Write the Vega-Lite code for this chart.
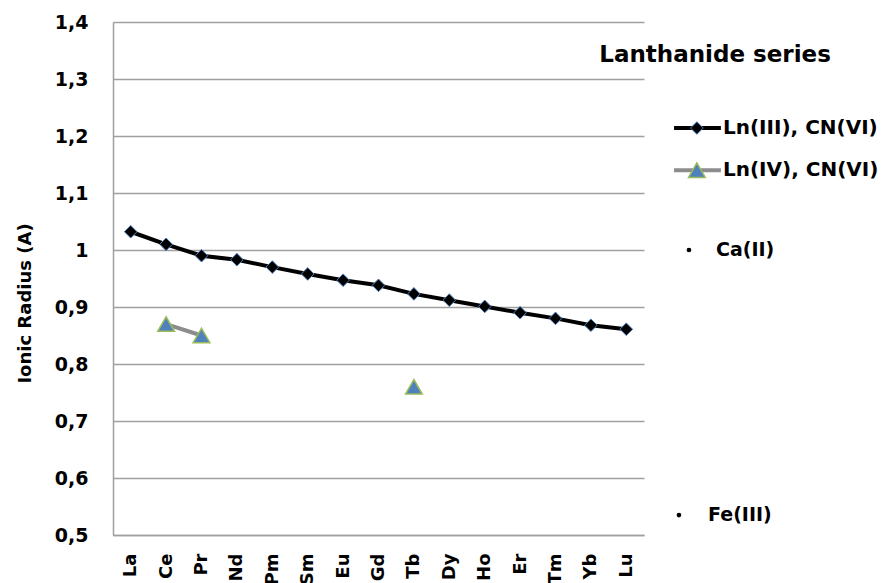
{
  "$schema": "https://vega.github.io/schema/vega-lite/v6.json",
  "background": "white",
  "padding": {"left": 16, "top": 13, "right": 0, "bottom": 0},
  "bounds": "flush",
  "spacing": 0,
  "config": {
    "view": {"stroke": null},
    "font": "DejaVu Sans",
    "text": {"font": "DejaVu Sans"},
    "axis": {
      "labelFont": "DejaVu Sans", "labelFontSize": 19, "labelFontWeight": "bold", "labelColor": "black",
      "titleFont": "DejaVu Sans", "titleFontSize": 18, "titleFontWeight": "bold", "titleColor": "black",
      "ticks": false, "domainColor": "#a0a0a0", "domainWidth": 1.5, "gridColor": "#a0a0a0", "gridWidth": 1.5
    }
  },
  "resolve": {"scale": {"y": "independent", "x": "independent"}},
  "hconcat": [
    {
      "width": 531,
      "height": 513,
      "data": {
        "values": [
          {"element": "La", "ln3": 1.032, "ln4": null},
          {"element": "Ce", "ln3": 1.01, "ln4": 0.87},
          {"element": "Pr", "ln3": 0.99, "ln4": 0.85},
          {"element": "Nd", "ln3": 0.983, "ln4": null},
          {"element": "Pm", "ln3": 0.97, "ln4": null},
          {"element": "Sm", "ln3": 0.958, "ln4": null},
          {"element": "Eu", "ln3": 0.947, "ln4": null},
          {"element": "Gd", "ln3": 0.938, "ln4": null},
          {"element": "Tb", "ln3": 0.923, "ln4": 0.76},
          {"element": "Dy", "ln3": 0.912, "ln4": null},
          {"element": "Ho", "ln3": 0.901, "ln4": null},
          {"element": "Er", "ln3": 0.89, "ln4": null},
          {"element": "Tm", "ln3": 0.88, "ln4": null},
          {"element": "Yb", "ln3": 0.868, "ln4": null},
          {"element": "Lu", "ln3": 0.861, "ln4": null}
        ]
      },
      "encoding": {
        "x": {
          "field": "element", "type": "nominal", "sort": null,
          "scale": {"padding": 0.5},
          "axis": {"title": null, "labelAngle": -90, "labelPadding": 18, "labelFontSize": 18, "grid": false}
        }
      },
      "layer": [
        {
          "mark": {"type": "line", "color": "black", "strokeWidth": 4},
          "encoding": {
            "y": {
              "field": "ln3", "type": "quantitative", "title": "Ionic Radius (A)",
              "scale": {"domain": [0.5, 1.4], "nice": false, "zero": false},
              "axis": {
                "values": [0.5, 0.6, 0.7, 0.8, 0.9, 1.0, 1.1, 1.2, 1.3, 1.4],
                "labelExpr": "replace(format(datum.value, '.1~f'), '.', ',')",
                "grid": true, "labelPadding": 25, "titlePadding": 20, "titleY": 281
              }
            }
          }
        },
        {
          "mark": {"type": "point", "shape": "diamond", "filled": true, "fill": "black", "stroke": "#4f81bd", "strokeWidth": 1, "size": 160, "opacity": 1},
          "encoding": {
            "y": {"field": "ln3", "type": "quantitative", "title": "Ionic Radius (A)", "scale": {"domain": [0.5, 1.4], "nice": false, "zero": false}}
          }
        },
        {
          "mark": {"type": "line", "color": "#8c8c8c", "strokeWidth": 4, "invalid": "break-paths-show-domains"},
          "encoding": {
            "y": {"field": "ln4", "type": "quantitative", "title": "Ionic Radius (A)", "scale": {"domain": [0.5, 1.4], "nice": false, "zero": false}}
          }
        },
        {
          "mark": {"type": "point", "shape": "triangle-up", "filled": true, "fill": "#4f81bd", "stroke": "#9bbb59", "strokeWidth": 1.5, "size": 280, "opacity": 1},
          "encoding": {
            "y": {"field": "ln4", "type": "quantitative", "title": "Ionic Radius (A)", "scale": {"domain": [0.5, 1.4], "nice": false, "zero": false}}
          }
        }
      ]
    },
    {
      "width": 233,
      "height": 513,
      "layer": [
        {
          "data": {"values": [{"label": "Lanthanide series"}]},
          "mark": {"type": "text", "font": "DejaVu Sans", "fontSize": 23, "fontWeight": "bold", "align": "center", "baseline": "middle", "color": "black"},
          "encoding": {
            "text": {"field": "label"},
            "x": {"datum": 30.5, "type": "quantitative", "scale": {"domain": [0, 100]}, "axis": null},
            "y": {"datum": 1.342, "type": "quantitative", "scale": {"domain": [0.5, 1.4], "nice": false, "zero": false}, "axis": null}
          }
        },
        {
          "data": {"values": [{"label": "Ln(III), CN(VI)"}]},
          "mark": {"type": "rule", "color": "black", "strokeWidth": 4},
          "encoding": {
            "x": {"datum": 12.9, "type": "quantitative"},
            "x2": {"datum": 33},
            "y": {"datum": 1.214, "type": "quantitative"}
          }
        },
        {
          "data": {"values": [{"label": "Ln(III), CN(VI)"}]},
          "mark": {"type": "point", "shape": "diamond", "filled": true, "fill": "black", "stroke": "#4f81bd", "strokeWidth": 1, "size": 160, "opacity": 1},
          "encoding": {
            "x": {"datum": 22.7, "type": "quantitative"},
            "y": {"datum": 1.214, "type": "quantitative"}
          }
        },
        {
          "data": {"values": [{"label": "Ln(III), CN(VI)"}]},
          "mark": {"type": "text", "font": "DejaVu Sans", "fontSize": 20, "fontWeight": "bold", "align": "left", "baseline": "middle", "color": "black"},
          "encoding": {
            "text": {"field": "label"},
            "x": {"datum": 33.9, "type": "quantitative"},
            "y": {"datum": 1.214, "type": "quantitative"}
          }
        },
        {
          "data": {"values": [{"label": "Ln(IV), CN(VI)"}]},
          "mark": {"type": "rule", "color": "#8c8c8c", "strokeWidth": 4},
          "encoding": {
            "x": {"datum": 12.9, "type": "quantitative"},
            "x2": {"datum": 33},
            "y": {"datum": 1.14, "type": "quantitative"}
          }
        },
        {
          "data": {"values": [{"label": "Ln(IV), CN(VI)"}]},
          "mark": {"type": "point", "shape": "triangle-up", "filled": true, "fill": "#4f81bd", "stroke": "#9bbb59", "strokeWidth": 1.5, "size": 280, "opacity": 1},
          "encoding": {
            "x": {"datum": 22.7, "type": "quantitative"},
            "y": {"datum": 1.14, "type": "quantitative"}
          }
        },
        {
          "data": {"values": [{"label": "Ln(IV), CN(VI)"}]},
          "mark": {"type": "text", "font": "DejaVu Sans", "fontSize": 20, "fontWeight": "bold", "align": "left", "baseline": "middle", "color": "black"},
          "encoding": {
            "text": {"field": "label"},
            "x": {"datum": 33.9, "type": "quantitative"},
            "y": {"datum": 1.14, "type": "quantitative"}
          }
        },
        {
          "data": {"values": [{"label": "Ca(II)"}]},
          "mark": {"type": "point", "shape": "circle", "filled": true, "color": "black", "size": 22, "opacity": 1},
          "encoding": {
            "x": {"datum": 19.3, "type": "quantitative"},
            "y": {"datum": 1.0, "type": "quantitative"}
          }
        },
        {
          "data": {"values": [{"label": "Ca(II)"}]},
          "mark": {"type": "text", "font": "DejaVu Sans", "fontSize": 19, "fontWeight": "bold", "align": "left", "baseline": "middle", "color": "black"},
          "encoding": {
            "text": {"field": "label"},
            "x": {"datum": 30.9, "type": "quantitative"},
            "y": {"datum": 1.0, "type": "quantitative"}
          }
        },
        {
          "data": {"values": [{"label": "Fe(III)"}]},
          "mark": {"type": "point", "shape": "circle", "filled": true, "color": "black", "size": 22, "opacity": 1},
          "encoding": {
            "x": {"datum": 15, "type": "quantitative"},
            "y": {"datum": 0.535, "type": "quantitative"}
          }
        },
        {
          "data": {"values": [{"label": "Fe(III)"}]},
          "mark": {"type": "text", "font": "DejaVu Sans", "fontSize": 19, "fontWeight": "bold", "align": "left", "baseline": "middle", "color": "black"},
          "encoding": {
            "text": {"field": "label"},
            "x": {"datum": 27.5, "type": "quantitative"},
            "y": {"datum": 0.535, "type": "quantitative"}
          }
        }
      ]
    }
  ]
}
